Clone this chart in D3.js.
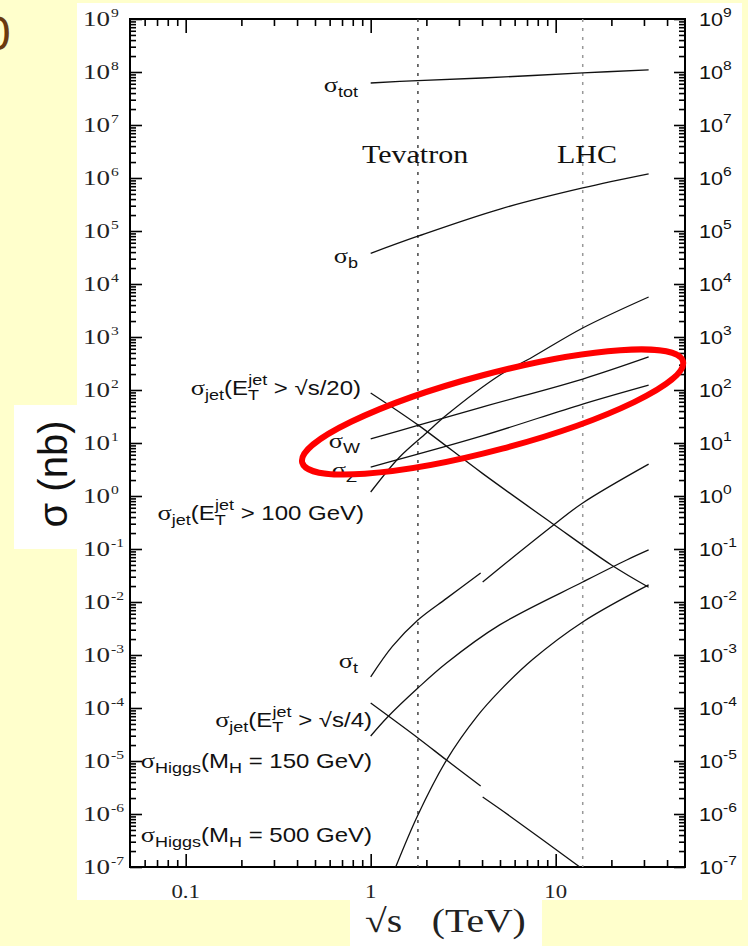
<!DOCTYPE html>
<html>
<head>
<meta charset="utf-8">
<script src="https://cdn.jsdelivr.net/npm/d3@7"></script>
<style>
body { margin: 0; background: #FFFFCC; }
svg { display: block; }
</style>
</head>
<body>
<script>
var w = 748;
var h = 946;
var sx = 1.2; // the picture is stretched sideways, so is the text

// cross sections, [sqrt(s) in TeV, sigma in nb]
var sigTot = [[1, 6.2e7], [1.8, 6.9e7], [4, 7.7e7], [14, 9.6e7], [31.8, 1.1e8]];
var sigB = [[1, 3.8e4], [1.8, 8e4], [5, 2.6e5], [14, 6.5e5], [31.8, 1.2e6]];
var sigJet20 = [[1, 88], [1.8, 22], [4, 2.7], [9.5, 0.31], [20, 0.05], [31.8, 0.019]];
var sigW = [[1, 11.9], [1.8, 21.5], [4, 47.7], [14, 161], [31.8, 420]];
var sigZ = [[1, 3.52], [4, 13.6], [14, 54.4], [31.8, 124]];
var sigJet100 = [[1, 1.19], [1.43, 5.4], [2, 15.5], [2.57, 33.7], [5, 192], [7.5, 420], [14, 1480], [31.8, 5690]];
var sigTopPbar = [[1, 3.85e-4], [1.31, 1.45e-3], [1.8, 4.57e-3], [2.57, 1.17e-2], [3.93, 0.0352]];
var sigTopPP = [[4.03, 0.0238], [5.64, 0.062], [9.7, 0.28], [14, 0.74], [31.8, 4.0]];
var sigJet4Pbar = [[1, 1.24e-4], [1.8, 2.72e-5], [2.57, 1.04e-5], [3.93, 3.37e-6]];
var sigJet4PP = [[4.03, 2.09e-6], [5.64, 9.2e-7], [13.5, 1e-7]];
var sigH150 = [[1, 2.96e-5], [1.235, 6.76e-5], [1.8, 2.38e-4], [2.57, 7.06e-4], [4.98, 3.7e-3], [14, 0.0238], [24.2, 0.062], [31.8, 0.096]];
var sigH500 = [[1.365, 1e-7], [1.8, 9.6e-7], [2.57, 1.04e-5], [3.74, 6.8e-5], [4.98, 2.1e-4], [7.5, 8.2e-4], [14, 4.2e-3], [31.8, 0.021]];

var curves = [sigTot, sigB, sigJet20, sigW, sigZ, sigJet100, sigTopPbar, sigTopPP,
	sigJet4Pbar, sigJet4PP, sigH150, sigH500];

var colliderNames = ["Tevatron", "LHC"];
var colliderEnergy = [1.8, 14];

var xLabels = [0.1, 1, 10];
var yExponents = [9, 8, 7, 6, 5, 4, 3, 2, 1, 0, -1, -2, -3, -4, -5, -6, -7];

// curve labels: pieces of text, kind = sym / n / sub / sup
var curveLabels = [
	{x: 358, y: 92, parts: [["σ", "sym"], ["tot", "sub"]]},
	{x: 358, y: 263, parts: [["σ", "sym"], ["b", "sub"]]},
	{x: 361, y: 395, parts: [["σ", "sym"], ["jet", "sub"], ["(E", "n"], ["T", "sub"], ["jet", "sup", -9], [" > √s/20)", "n"]]},
	{x: 360, y: 448, parts: [["σ", "sym"], ["W", "sub"]]},
	{x: 357, y: 477, parts: [["σ", "sym"], ["Z", "sub"]]},
	{x: 364, y: 520, parts: [["σ", "sym"], ["jet", "sub"], ["(E", "n"], ["T", "sub"], ["jet", "sup", -9], [" > 100 GeV)", "n"]]},
	{x: 358, y: 668, parts: [["σ", "sym"], ["t", "sub"]]},
	{x: 372, y: 727, parts: [["σ", "sym"], ["jet", "sub"], ["(E", "n"], ["T", "sub"], ["jet", "sup", -9], [" > √s/4)", "n"]]},
	{x: 372, y: 768, parts: [["σ", "sym"], ["Higgs", "sub"], ["(M", "n"], ["H", "sub"], [" = 150 GeV)", "n"]]},
	{x: 372, y: 842, parts: [["σ", "sym"], ["Higgs", "sub"], ["(M", "n"], ["H", "sub"], [" = 500 GeV)", "n"]]}
];

var padL = 130, padR = 685, padT = 19, padB = 867;

var x = d3.scaleLog().domain([0.05, 50]).range([padL, padR]);
var y = d3.scaleLog().domain([1e-7, 1e9]).range([padB, padT]);

var svg = d3.select("body")
	.append("svg")
	.attr("width", w)
	.attr("height", h);

// brown leftover of the slide title
svg.append("text")
	.attr("x", -16).attr("y", 50)
	.attr("font-family", "Liberation Sans, Arial, sans-serif")
	.attr("font-size", 48)
	.attr("fill", "#6B3A0F")
	.text("0");

// white panels
svg.append("rect").attr("x", 77).attr("y", 3).attr("width", 665).attr("height", 897).attr("fill", "#fff");
svg.append("rect").attr("x", 14).attr("y", 405).attr("width", 64).attr("height", 144).attr("fill", "#fff");
svg.append("rect").attr("x", 350).attr("y", 899).attr("width", 192).attr("height", 47).attr("fill", "#fff");

svg.append("clipPath").attr("id", "plotclip")
	.append("rect")
	.attr("x", padL).attr("y", padT)
	.attr("width", padR - padL).attr("height", padB - padT);

// minor ticks
var xMinor = [];
[0.01, 0.1, 1, 10].forEach(function(d){
	for (var m = 2; m < 10; m++) {
		var v = +(m * d).toPrecision(3);
		if (v > 0.05 && v < 50) xMinor.push(v);
	}
});
var yMinor = [];
yExponents.forEach(function(e){
	if (e == 9) return;
	for (var m = 2; m < 10; m++) yMinor.push(m * Math.pow(10, e));
});
var yMajor = yExponents.map(function(e){ return Math.pow(10, e); });

function drawAxis(makeAxis, scale, tx, ty, bigSize, smallSize, major, minor) {
	var g = svg.append("g").attr("transform", "translate(" + tx + "," + ty + ")");
	g.append("g").call(makeAxis(scale).tickValues(minor).tickSize(smallSize).tickFormat(""));
	g.append("g").call(makeAxis(scale).tickValues(major).tickSize(bigSize).tickFormat(""));
	g.selectAll(".domain").remove();
	g.selectAll("line").attr("stroke", "#000").attr("stroke-width", 1.6);
}

drawAxis(d3.axisLeft, y, padL, 0, -12, -6, yMajor, yMinor);
drawAxis(d3.axisRight, y, padR, 0, -11, -6, yMajor, yMinor);
drawAxis(d3.axisBottom, x, 0, padB, -13, -7, xLabels, xMinor);
drawAxis(d3.axisTop, x, 0, padT, -14, -7, xLabels, xMinor);

// frame
svg.append("rect")
	.attr("x", padL).attr("y", padT)
	.attr("width", padR - padL).attr("height", padB - padT)
	.attr("fill", "none")
	.attr("stroke", "#000")
	.attr("stroke-width", 2);

// collider lines
svg.selectAll(".collider")
	.data(colliderEnergy)
	.enter()
	.append("line")
		.attr("class", "collider")
		.attr("x1", function(d){ return x(d); })
		.attr("x2", function(d){ return x(d); })
		.attr("y1", padT)
		.attr("y2", padB)
		.attr("stroke", function(d, i){ return i == 0 ? "#444" : "#999"; })
		.attr("stroke-width", 1.5)
		.attr("stroke-dasharray", "3,6");

function stretched(px, py, anchor, k) {
	return svg.append("text")
		.attr("transform", "translate(" + px + "," + py + ") scale(" + (k || sx) + ",1)")
		.attr("text-anchor", anchor);
}

colliderNames.forEach(function(n, i){
	stretched(i == 0 ? 362 : 557, 163, "start")
		.attr("font-family", "Liberation Serif, Times New Roman, serif")
		.attr("font-size", 25)
		.attr("fill", "#111")
		.text(n);
});

// curves
var line = d3.line()
	.x(function(d){ return x(d[0]); })
	.y(function(d){ return y(d[1]); })
	.curve(d3.curveCatmullRom.alpha(0.5));

svg.append("g")
	.attr("clip-path", "url(#plotclip)")
	.selectAll("path")
	.data(curves)
	.enter()
	.append("path")
		.attr("d", line)
		.attr("fill", "none")
		.attr("stroke", "#111")
		.attr("stroke-width", 1.3);

// curve labels
curveLabels.forEach(function(lab){
	var t = stretched(lab.x, lab.y, "end")
		.attr("font-family", "Liberation Sans, Arial, sans-serif")
		.attr("font-size", 20)
		.attr("fill", "#111");
	var shift = 0;
	lab.parts.forEach(function(p){
		var want = p[1] == "sub" ? 5 : p[1] == "sup" ? -10 : 0;
		var ts = t.append("tspan").text(p[0]).attr("dy", want - shift);
		shift = want;
		if (p[1] == "sub" || p[1] == "sup") ts.attr("font-size", 15);
		if (p[1] == "sym") ts.attr("font-family", "Liberation Serif, serif").attr("font-size", 22);
		if (p[2]) ts.attr("dx", p[2]);
	});
});

// left tick labels (serif) and right ones (sans)
yExponents.forEach(function(e){
	var v = Math.pow(10, e);
	stretched(110, y(v) + 7, "end", 1.35)
		.attr("font-family", "Liberation Serif, Times New Roman, serif")
		.attr("font-size", 20)
		.attr("fill", "#222")
		.text("10");
	stretched(111, y(v) - 2, "start", 1.2)
		.attr("font-family", "Liberation Serif, Times New Roman, serif")
		.attr("font-size", 13)
		.attr("fill", "#222")
		.text(e);

	var tr = stretched(699, y(v) + 7, "start")
		.attr("font-family", "Liberation Sans, Arial, sans-serif")
		.attr("font-size", 18)
		.attr("fill", "#111");
	tr.append("tspan").text("10");
	tr.append("tspan").attr("dy", -9).attr("font-size", 13).text(e);
});

xLabels.forEach(function(d){
	stretched(x(d), 898, "middle")
		.attr("font-family", "Liberation Serif, Times New Roman, serif")
		.attr("font-size", 19)
		.attr("fill", "#222")
		.text(d);
});

// axis titles
stretched(365, 932, "start")
	.attr("font-family", "Liberation Serif, Times New Roman, serif")
	.attr("font-size", 33)
	.attr("fill", "#222")
	.attr("xml:space", "preserve")
	.text("√s   (TeV)");

svg.append("text")
	.attr("transform", "translate(67,474) rotate(-90)")
	.attr("text-anchor", "middle")
	.attr("font-family", "Liberation Sans, Arial, sans-serif")
	.attr("font-size", 40)
	.attr("fill", "#111")
	.text("σ (nb)");

// red ellipse around the W and Z curves
var ellCentre = [4.56, 38.5];
svg.append("ellipse")
	.attr("cx", 0).attr("cy", 0)
	.attr("rx", 197).attr("ry", 38)
	.attr("transform", "translate(" + x(ellCentre[0]) + "," + y(ellCentre[1]) + ") rotate(-14.9)")
	.attr("fill", "none")
	.attr("stroke", "#FF0000")
	.attr("stroke-width", 6);
</script>
</body>
</html>
